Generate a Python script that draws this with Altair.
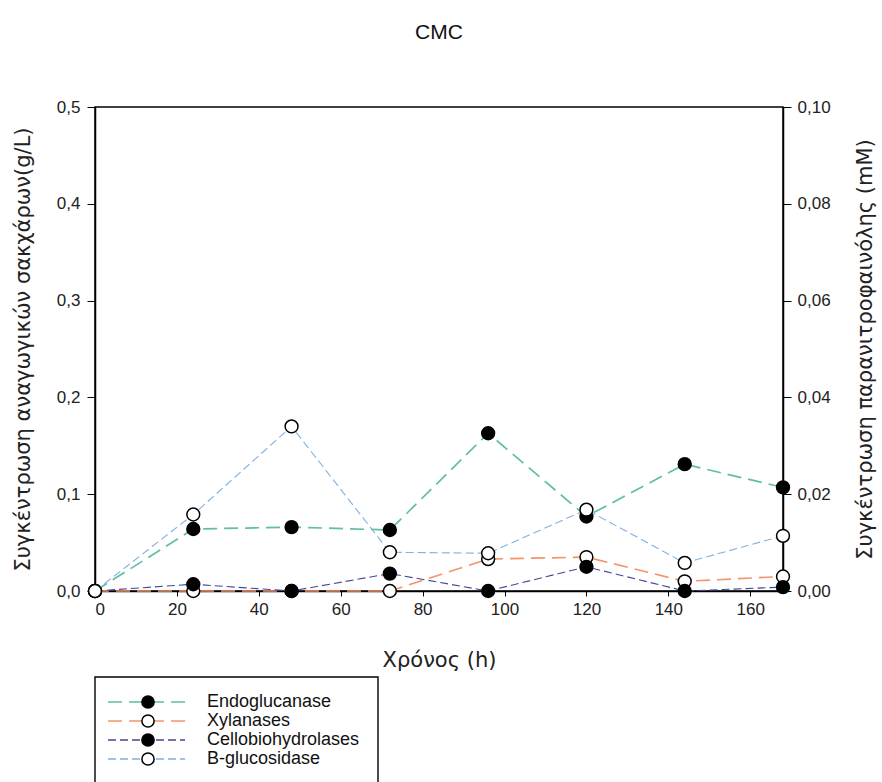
import altair as alt
import pandas as pd

hours = [0, 24, 48, 72, 96, 120, 144, 168]
series_names = ["Endoglucanase", "Xylanases", "Cellobiohydrolases", "B-glucosidase"]
endoglucanase = [0.0, 0.064, 0.066, 0.063, 0.163, 0.077, 0.131, 0.107]
xylanases = [0.0, 0.0, 0.0, 0.0, 0.033, 0.035, 0.010, 0.015]
cellobiohydrolases = [0.0, 0.007, 0.0, 0.018, 0.0, 0.025, 0.0, 0.004]
b_glucosidase = [0.0, 0.079, 0.170, 0.040, 0.039, 0.084, 0.029, 0.057]
x_ticks = [0, 20, 40, 60, 80, 100, 120, 140, 160]
left_ticks = [0.0, 0.1, 0.2, 0.3, 0.4, 0.5]
right_ticks = [0.0, 0.02, 0.04, 0.06, 0.08, 0.10]

colors = ["#5fbf9e", "#f4946a", "#45459a", "#7fb1e3"]
dashes = [[14, 7], [14, 7], [8, 4], [8, 4]]
widths = [1.7, 1.7, 1.1, 1.1]
fills = ["black", "white", "black", "white"]
values_list = [endoglucanase, xylanases, cellobiohydrolases, b_glucosidase]

W, H = 688, 484
LABEL_FONT = "Liberation Sans"
TITLE_FONT = "DejaVu Sans"
TICK_SIZE = 17
TITLE_SIZE = 21

x_axis = alt.Axis(values=x_ticks, tickSize=5, labelFontSize=TICK_SIZE, labelFont=LABEL_FONT,
                  labelColor="#222", labelPadding=5, title="Χρόνος (h)",
                  titleFont=TITLE_FONT, titleFontSize=TITLE_SIZE, titleFontWeight="normal",
                  titleColor="#222", titleX=W / 2, titleY=69, titleBaseline="middle",
                  grid=False, domainColor="black", tickColor="black", domainWidth=1.5)
X = alt.X("hours:Q", scale=alt.Scale(domain=[0, 168], nice=False, zero=False), axis=x_axis)

left_axis = alt.Axis(orient="left", values=left_ticks, tickSize=8, labelFontSize=TICK_SIZE,
                     labelFont=LABEL_FONT, labelColor="#222", labelPadding=7,
                     labelExpr="replace(format(datum.value, '.1f'), '.', ',')",
                     title="Συγκέντρωση αναγωγικών σακχάρων(g/L)", titleFont=TITLE_FONT,
                     titleFontSize=TITLE_SIZE, titleFontWeight="normal", titleColor="#222",
                     titleAngle=270, titleX=-72, titleY=H / 2, titleAlign="center",
                     titleBaseline="middle", grid=False, domainColor="black",
                     tickColor="black", domainWidth=1.5)
right_axis = alt.Axis(orient="right", values=right_ticks, tickSize=8, labelFontSize=TICK_SIZE,
                      labelFont=LABEL_FONT, labelColor="#222", labelPadding=6,
                      labelExpr="replace(format(datum.value, '.2f'), '.', ',')",
                      title="Συγκέντρωση παρανιτροφαινόλης (mM)", titleFont=TITLE_FONT,
                      titleFontSize=TITLE_SIZE, titleFontWeight="normal", titleColor="#222",
                      titleAngle=270, titleX=82, titleY=H / 2, titleAlign="center",
                      titleBaseline="middle", grid=False, domainColor="black",
                      tickColor="black", domainWidth=1.5)

left_scale = alt.Scale(domain=[0, 0.5], nice=False)

layers = []
for i, (name, vals) in enumerate(zip(series_names, values_list)):
    df = pd.DataFrame({"hours": hours, "value": vals, "series": name})
    base = alt.Chart(df)
    yaxis = left_axis if i == 0 else None
    line = base.mark_line(color=colors[i], strokeDash=dashes[i], strokeWidth=widths[i]).encode(
        x=X, y=alt.Y("value:Q", scale=left_scale, axis=yaxis))
    pts = base.mark_point(shape="circle", filled=True, fill=fills[i], stroke="black",
                          strokeWidth=1.5, size=165, opacity=1).encode(
        x=X, y=alt.Y("value:Q", scale=left_scale, axis=None))
    layers += [line, pts]

right_df = pd.DataFrame({"hours": [0, 168], "value": [0.0, 0.10]})
right_layer = alt.Chart(right_df).mark_point(opacity=0).encode(
    x=X, y=alt.Y("value:Q", scale=alt.Scale(domain=[0, 0.10], nice=False), axis=right_axis))

leg_df = pd.DataFrame({"series": series_names})
leg_y = alt.Y("series:N", scale=alt.Scale(type="point", domain=series_names,
                                          range=[595, 652], padding=0), axis=None)
leg_color = alt.Color("series:N", scale=alt.Scale(domain=series_names, range=colors), legend=None)
leg_dash = alt.StrokeDash("series:N", scale=alt.Scale(domain=series_names, range=dashes), legend=None)
leg_width = alt.StrokeWidth("series:N", scale=alt.Scale(domain=series_names, range=widths), legend=None)
leg_fill = alt.Fill("series:N", scale=alt.Scale(domain=series_names, range=fills), legend=None)

leg_lines = alt.Chart(leg_df).mark_rule().encode(
    x=alt.value(13), x2=alt.value(90), y=leg_y, color=leg_color,
    strokeDash=leg_dash, strokeWidth=leg_width)
leg_pts = alt.Chart(leg_df).mark_point(shape="circle", filled=True, stroke="black",
                                       strokeWidth=1.5, size=150, opacity=1).encode(
    x=alt.value(53), y=leg_y, fill=leg_fill)
leg_text = alt.Chart(leg_df).mark_text(align="left", baseline="middle", fontSize=18,
                                       font=LABEL_FONT, color="#111").encode(
    x=alt.value(112), y=leg_y, text="series:N")
leg_box = alt.Chart(pd.DataFrame({"a": [0]})).mark_rect(
    fillOpacity=0, stroke="black", strokeWidth=1.4).encode(
    x=alt.value(0), x2=alt.value(283), y=alt.value(570), y2=alt.value(700))

chart = alt.layer(*layers, right_layer, leg_box, leg_lines, leg_pts, leg_text).resolve_scale(
    y="independent"
).properties(
    width=W, height=H,
    title=alt.TitleParams("CMC", font=LABEL_FONT, fontSize=21, fontWeight="normal",
                          anchor="middle", color="#111", offset=55),
    autosize=alt.AutoSizeParams(type="none"),
    padding={"left": 95, "top": 107, "right": 99, "bottom": 191},
).configure_view(stroke="black", strokeWidth=1.5)

chart.save("out.html", embed_options={"renderer": "svg", "actions": False})
